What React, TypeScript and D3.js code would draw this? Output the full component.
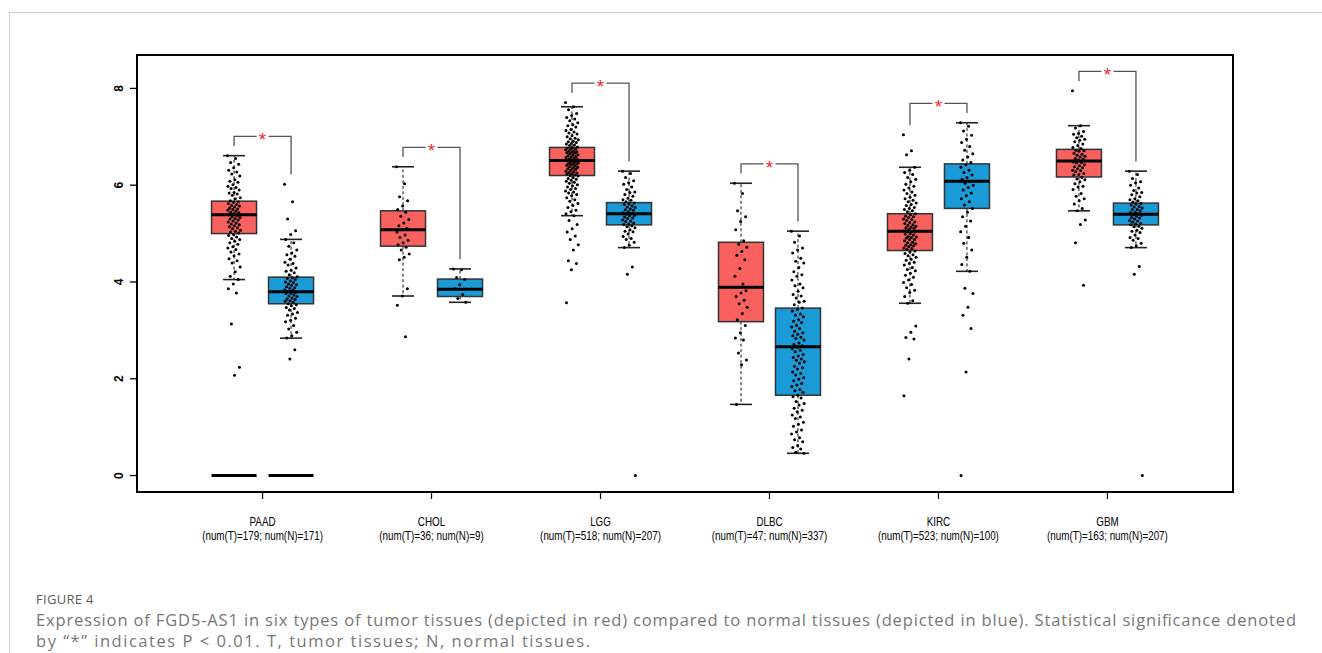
import React from 'react'
import * as d3 from 'd3'

// cancer types on the x axis and the sample counts printed under them
const groups = ['PAAD', 'CHOL', 'LGG', 'DLBC', 'KIRC', 'GBM']
const sampleLabels = [
	'(num(T)=179; num(N)=171)',
	'(num(T)=36; num(N)=9)',
	'(num(T)=518; num(N)=207)',
	'(num(T)=47; num(N)=337)',
	'(num(T)=523; num(N)=100)',
	'(num(T)=163; num(N)=207)',
]
const yTicks = [0, 2, 4, 6, 8]

// box statistics, tumor (red)
const tumorLow = [4.05, 3.71, 5.37, 1.47, 3.56, 5.47]
const tumorQ1 = [5.0, 4.74, 6.2, 3.18, 4.65, 6.17]
const tumorMedian = [5.39, 5.08, 6.51, 3.89, 5.05, 6.5]
const tumorQ3 = [5.67, 5.47, 6.78, 4.82, 5.41, 6.74]
const tumorHigh = [6.61, 6.38, 7.62, 6.04, 6.37, 7.23]

// box statistics, normal (blue)
const normalLow = [2.84, 3.58, 4.71, 0.46, 4.22, 4.71]
const normalQ1 = [3.55, 3.7, 5.18, 1.66, 5.52, 5.18]
const normalMedian = [3.8, 3.85, 5.41, 2.66, 6.08, 5.4]
const normalQ3 = [4.1, 4.06, 5.64, 3.46, 6.44, 5.63]
const normalHigh = [4.88, 4.27, 6.29, 5.05, 7.29, 6.29]

// groups that also show a collapsed box at zero
const zeroBoxGroups = ['PAAD']

// individual samples (approximate)
const tumorPoints = [
	[6.61, 6.55, 6.47, 6.43, 6.36, 6.31, 6.27, 6.23, 6.19, 6.11, 6.08, 6.06, 6.01, 5.98, 5.95, 5.93, 5.9, 5.85, 5.84, 5.82, 5.79, 5.74, 5.72, 5.68, 5.66, 5.64, 5.62, 5.6, 5.58, 5.57, 5.55, 5.53, 5.51, 5.5, 5.48, 5.46, 5.44, 5.43, 5.41, 5.39, 5.37, 5.35, 5.33, 5.31, 5.3, 5.28, 5.26, 5.24, 5.22, 5.2, 5.18, 5.16, 5.14, 5.12, 5.1, 5.07, 5.05, 5.03, 5.01, 4.98, 4.96, 4.93, 4.9, 4.88, 4.84, 4.81, 4.78, 4.73, 4.7, 4.67, 4.62, 4.58, 4.54, 4.48, 4.44, 4.39, 4.31, 4.21, 4.12, 4.05, 3.96, 3.86, 3.77, 3.13, 2.24, 2.07],
	[6.38, 6.03, 5.76, 5.68, 5.57, 5.5, 5.44, 5.36, 5.29, 5.22, 5.16, 5.11, 5.08, 5.03, 4.97, 4.92, 4.86, 4.81, 4.77, 4.72, 4.66, 4.58, 4.51, 4.46, 3.86, 3.71, 3.52, 2.87],
	[7.71, 7.62, 7.56, 7.48, 7.44, 7.4, 7.37, 7.33, 7.29, 7.25, 7.23, 7.2, 7.15, 7.13, 7.1, 7.08, 7.06, 7.02, 7.0, 6.97, 6.96, 6.94, 6.91, 6.9, 6.88, 6.86, 6.85, 6.83, 6.82, 6.79, 6.78, 6.77, 6.75, 6.74, 6.73, 6.71, 6.7, 6.69, 6.68, 6.67, 6.66, 6.65, 6.63, 6.62, 6.61, 6.59, 6.58, 6.57, 6.55, 6.54, 6.53, 6.52, 6.5, 6.49, 6.47, 6.46, 6.45, 6.44, 6.43, 6.42, 6.41, 6.39, 6.38, 6.37, 6.35, 6.34, 6.33, 6.31, 6.29, 6.28, 6.26, 6.25, 6.24, 6.23, 6.21, 6.2, 6.19, 6.16, 6.14, 6.12, 6.1, 6.08, 6.06, 6.04, 6.01, 5.99, 5.96, 5.93, 5.91, 5.88, 5.86, 5.84, 5.81, 5.78, 5.74, 5.7, 5.67, 5.62, 5.58, 5.54, 5.48, 5.45, 5.41, 5.37, 5.27, 5.19, 5.1, 5.03, 4.95, 4.88, 4.77, 4.66, 4.44, 4.38, 4.25, 3.57],
	[6.04, 5.83, 5.47, 5.35, 5.25, 5.08, 4.85, 4.78, 4.72, 4.63, 4.55, 4.46, 4.28, 4.12, 3.96, 3.89, 3.82, 3.77, 3.7, 3.62, 3.55, 3.48, 3.35, 3.22, 3.1, 2.95, 2.84, 2.8, 2.53, 2.39, 2.29, 1.47],
	[7.04, 6.71, 6.63, 6.37, 6.31, 6.26, 6.22, 6.16, 6.12, 6.07, 6.02, 5.98, 5.94, 5.9, 5.86, 5.83, 5.79, 5.75, 5.72, 5.69, 5.66, 5.63, 5.6, 5.58, 5.54, 5.52, 5.5, 5.47, 5.45, 5.41, 5.39, 5.36, 5.35, 5.33, 5.3, 5.29, 5.27, 5.24, 5.23, 5.21, 5.18, 5.17, 5.15, 5.13, 5.12, 5.11, 5.09, 5.06, 5.05, 5.04, 5.03, 5.0, 4.99, 4.97, 4.94, 4.93, 4.92, 4.91, 4.88, 4.87, 4.85, 4.82, 4.81, 4.79, 4.77, 4.76, 4.75, 4.73, 4.7, 4.69, 4.67, 4.64, 4.62, 4.59, 4.56, 4.54, 4.51, 4.47, 4.45, 4.41, 4.38, 4.35, 4.3, 4.26, 4.23, 4.18, 4.14, 4.1, 4.04, 3.99, 3.95, 3.88, 3.83, 3.78, 3.7, 3.61, 3.56, 3.09, 2.96, 2.85, 2.82, 2.41, 1.65],
	[7.95, 7.23, 7.18, 7.11, 7.07, 7.05, 7.01, 6.98, 6.95, 6.93, 6.9, 6.85, 6.82, 6.78, 6.76, 6.72, 6.71, 6.7, 6.66, 6.64, 6.62, 6.6, 6.58, 6.55, 6.54, 6.52, 6.48, 6.47, 6.46, 6.42, 6.4, 6.38, 6.36, 6.34, 6.31, 6.3, 6.28, 6.24, 6.22, 6.21, 6.16, 6.13, 6.11, 6.07, 6.03, 5.98, 5.96, 5.91, 5.83, 5.77, 5.72, 5.68, 5.61, 5.52, 5.47, 5.28, 5.19, 4.81, 3.93],
]
const normalPoints = [
	[6.02, 5.66, 5.3, 5.06, 4.98, 4.88, 4.81, 4.74, 4.66, 4.6, 4.56, 4.53, 4.47, 4.41, 4.38, 4.35, 4.29, 4.24, 4.22, 4.19, 4.15, 4.11, 4.08, 4.07, 4.05, 4.02, 4.0, 3.99, 3.96, 3.94, 3.93, 3.9, 3.88, 3.87, 3.84, 3.83, 3.81, 3.79, 3.77, 3.76, 3.73, 3.71, 3.7, 3.67, 3.65, 3.64, 3.61, 3.6, 3.58, 3.55, 3.53, 3.51, 3.47, 3.45, 3.42, 3.37, 3.34, 3.31, 3.25, 3.21, 3.18, 3.1, 3.03, 2.96, 2.89, 2.84, 2.6, 2.41],
	[4.27, 4.25, 4.09, 4.05, 3.94, 3.86, 3.74, 3.66, 3.58],
	[6.29, 6.24, 6.16, 6.09, 6.05, 6.02, 5.96, 5.91, 5.86, 5.85, 5.81, 5.77, 5.73, 5.7, 5.69, 5.66, 5.63, 5.61, 5.6, 5.57, 5.55, 5.54, 5.51, 5.49, 5.48, 5.45, 5.43, 5.42, 5.4, 5.38, 5.37, 5.34, 5.32, 5.31, 5.28, 5.26, 5.25, 5.22, 5.2, 5.19, 5.16, 5.14, 5.12, 5.08, 5.05, 5.04, 4.99, 4.94, 4.9, 4.88, 4.82, 4.76, 4.71, 4.31, 4.16, 0],
	[5.05, 4.95, 4.82, 4.7, 4.66, 4.6, 4.49, 4.43, 4.39, 4.3, 4.21, 4.15, 4.12, 4.04, 3.96, 3.92, 3.88, 3.81, 3.74, 3.71, 3.67, 3.6, 3.58, 3.53, 3.46, 3.43, 3.4, 3.34, 3.31, 3.28, 3.22, 3.19, 3.16, 3.1, 3.07, 3.04, 2.98, 2.95, 2.92, 2.89, 2.86, 2.83, 2.8, 2.74, 2.71, 2.68, 2.65, 2.62, 2.59, 2.56, 2.5, 2.47, 2.44, 2.41, 2.38, 2.35, 2.32, 2.26, 2.23, 2.2, 2.14, 2.11, 2.08, 2.02, 1.99, 1.96, 1.9, 1.87, 1.84, 1.78, 1.75, 1.72, 1.66, 1.63, 1.6, 1.53, 1.49, 1.46, 1.39, 1.35, 1.32, 1.25, 1.21, 1.18, 1.1, 1.06, 1.02, 0.94, 0.9, 0.86, 0.78, 0.74, 0.7, 0.62, 0.58, 0.55, 0.48, 0.46],
	[7.29, 7.22, 7.12, 7.03, 6.95, 6.88, 6.8, 6.72, 6.65, 6.58, 6.52, 6.47, 6.42, 6.37, 6.31, 6.26, 6.21, 6.16, 6.12, 6.08, 6.04, 6.0, 5.95, 5.9, 5.84, 5.78, 5.72, 5.66, 5.59, 5.52, 5.44, 5.35, 5.26, 5.15, 5.04, 4.92, 4.8, 4.66, 4.51, 4.36, 4.22, 3.87, 3.76, 3.48, 3.31, 3.04, 2.14, 0],
	[6.29, 6.22, 6.14, 6.07, 6.05, 6.0, 5.94, 5.89, 5.85, 5.84, 5.8, 5.76, 5.72, 5.7, 5.68, 5.65, 5.62, 5.61, 5.59, 5.56, 5.55, 5.53, 5.5, 5.49, 5.47, 5.44, 5.43, 5.41, 5.39, 5.38, 5.36, 5.33, 5.32, 5.3, 5.27, 5.26, 5.24, 5.21, 5.2, 5.18, 5.15, 5.14, 5.11, 5.07, 5.05, 5.02, 4.97, 4.92, 4.9, 4.86, 4.8, 4.75, 4.71, 4.32, 4.16, 0],
]

const RED = '#f8615e'
const BLUE = '#1a9ad6'

const plot = { left: 137, right: 1233, top: 55, bottom: 492 }
const boxW = 45
const capW = 22

function BoxSeries({ cx, low, q1, med, q3, high, pts, fill, y }) {
	return (
		<g>
			<line x1={cx} x2={cx} y1={y(q3)} y2={y(high)} stroke="#111" strokeWidth={1} strokeDasharray="3,2.5" />
			<line x1={cx} x2={cx} y1={y(q1)} y2={y(low)} stroke="#111" strokeWidth={1} strokeDasharray="3,2.5" />
			<line x1={cx - capW / 2} x2={cx + capW / 2} y1={y(high)} y2={y(high)} stroke="#222" strokeWidth={1.6} />
			<line x1={cx - capW / 2} x2={cx + capW / 2} y1={y(low)} y2={y(low)} stroke="#222" strokeWidth={1.6} />
			<rect x={cx - boxW / 2} y={y(q3)} width={boxW} height={y(q1) - y(q3)} fill={fill} stroke="#333" strokeWidth={1.5} />
			<line x1={cx - boxW / 2} x2={cx + boxW / 2} y1={y(med)} y2={y(med)} stroke="#000" strokeWidth={3} />
			{pts.map((v, i) => {
				const jit = (((i * 0.618034) % 1) - 0.5) * 13
				return <circle key={i} cx={cx + jit} cy={y(v)} r={1.5} fill="#000" />
			})}
		</g>
	)
}

export default function App() {
	const x = d3.scalePoint().domain(groups).range([plot.left, plot.right]).padding(0.743)
	const side = d3.scalePoint().domain(['T', 'N']).range([-28.5, 28.5])
	const y = d3.scaleLinear().domain([-0.34, 8.69]).range([plot.bottom, plot.top])

	return (
		<svg width={1322} height={653} style={{ position: 'absolute', left: 0, top: 0, background: '#fff' }}>
			<rect x={9.5} y={12.5} width={1340} height={700} fill="none" stroke="#cfcfcf" strokeWidth={1} />

			{/* y axis */}
			{yTicks.map((t) => (
				<g key={t}>
					<line x1={plot.left - 7} x2={plot.left} y1={y(t)} y2={y(t)} stroke="#000" strokeWidth={1.3} />
					<text
						transform={`translate(119,${y(t)}) rotate(-90)`}
						textAnchor="middle"
						dominantBaseline="central"
						fontFamily="Liberation Sans, Arial, sans-serif"
						fontWeight="bold"
						fontSize={12}
					>
						{t}
					</text>
				</g>
			))}

			{/* x axis ticks and labels */}
			{groups.map((g, i) => (
				<g key={g}>
					<line x1={x(g)} x2={x(g)} y1={plot.bottom} y2={plot.bottom + 7} stroke="#000" strokeWidth={1.2} />
					<g transform={`translate(${x(g)},0) scale(0.82,1)`} fontFamily="Liberation Sans, Arial, sans-serif" fontSize={12} textAnchor="middle">
						<text x={0} y={525.7}>{g}</text>
						<text x={0} y={540.5}>{sampleLabels[i]}</text>
					</g>
				</g>
			))}

			{/* collapsed boxes at zero */}
			{zeroBoxGroups.map((g) =>
				['T', 'N'].map((s) => (
					<line
						key={g + s}
						x1={x(g) + side(s) - boxW / 2}
						x2={x(g) + side(s) + boxW / 2}
						y1={y(0)}
						y2={y(0)}
						stroke="#000"
						strokeWidth={3}
					/>
				))
			)}

			{/* boxes */}
			{groups.map((g, i) => (
				<g key={g}>
					<BoxSeries
						cx={x(g) + side('T')}
						low={tumorLow[i]}
						q1={tumorQ1[i]}
						med={tumorMedian[i]}
						q3={tumorQ3[i]}
						high={tumorHigh[i]}
						pts={tumorPoints[i]}
						fill={RED}
						y={y}
					/>
					<BoxSeries
						cx={x(g) + side('N')}
						low={normalLow[i]}
						q1={normalQ1[i]}
						med={normalMedian[i]}
						q3={normalQ3[i]}
						high={normalHigh[i]}
						pts={normalPoints[i]}
						fill={BLUE}
						y={y}
					/>
				</g>
			))}

			{/* significance brackets */}
			{groups.map((g, i) => {
				const maxT = d3.max(tumorPoints[i].concat([tumorHigh[i]]))
				const maxN = d3.max(normalPoints[i].concat([normalHigh[i]]))
				const top = y(Math.max(maxT, maxN) + 0.4)
				const xl = x(g) + side('T')
				const xr = x(g) + side('N')
				const c = x(g)
				return (
					<g key={g} stroke="#555" strokeWidth={1.3} fill="none">
						<polyline points={`${xl},${y(maxT + 0.2)} ${xl},${top} ${c - 6},${top}`} />
						<polyline points={`${c + 6},${top} ${xr},${top} ${xr},${y(maxN + 0.2)}`} />
						<text x={c} y={top + 10} textAnchor="middle" fill="#ee2a2a" stroke="none" fontSize={19} fontFamily="Liberation Sans, Arial, sans-serif">
							*
						</text>
					</g>
				)
			})}

			{/* frame */}
			<rect x={plot.left} y={plot.top} width={plot.right - plot.left} height={plot.bottom - plot.top} fill="none" stroke="#000" strokeWidth={2} />

			{/* caption */}
			<text x={36} y={604} fontFamily="Open Sans, sans-serif" fontSize={13} letterSpacing={0.3} fill="#5c5c5c">
				FIGURE 4
			</text>
			<text x={36} y={626} fontFamily="Open Sans, sans-serif" fontSize={16.5} fill="#777" textLength={1260} lengthAdjust="spacing">
				Expression of FGD5-AS1 in six types of tumor tissues (depicted in red) compared to normal tissues (depicted in blue). Statistical significance denoted
			</text>
			<text x={36} y={647} fontFamily="Open Sans, sans-serif" fontSize={16.5} fill="#777" textLength={554} lengthAdjust="spacing">
				by “*” indicates P &lt; 0.01. T, tumor tissues; N, normal tissues.
			</text>
		</svg>
	)
}
